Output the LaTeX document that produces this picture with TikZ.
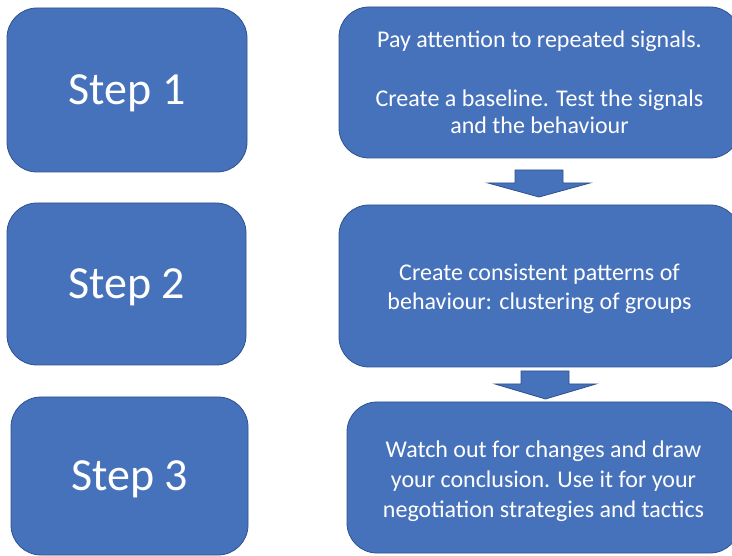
\documentclass[tikz,border=0pt]{standalone}
\usepackage{fontspec}
\setmainfont{Carlito}
\definecolor{boxblue}{HTML}{4671BB}
\definecolor{boxedge}{HTML}{2F528F}
\tikzset{
  panel/.style={draw=boxedge, line width=0.8pt, fill=boxblue, rounded corners=30pt,
    text=white, inner sep=0pt},
  stepbox/.style={panel, font=\fontsize{46}{55}\selectfont, text depth=0pt},
  notetext/.style={text=white, align=center, inner sep=0pt,
    font=\fontsize{24}{30}\selectfont},
  blockarrow/.style={draw=boxedge, line width=0.8pt, fill=boxblue}
}
\begin{document}
\begin{tikzpicture}[x=1pt,y=-1pt]
  \useasboundingbox (0,0) rectangle (732,556);
  \clip (0,0) rectangle (732,556);

  % step labels on the left
  \node[stepbox, minimum width=240pt, minimum height=164pt] (s1) at (127,90) {Step 1};
  \node[stepbox, minimum width=239pt, minimum height=162pt] (s2) at (126.5,284) {Step 2};
  \node[stepbox, minimum width=237pt, minimum height=158pt] (s3) at (129.5,476) {Step 3};

  % description panels on the right
  \node[panel, minimum width=401pt, minimum height=151pt] (r1) at (539.5,82.5) {};
  \node[panel, minimum width=401pt, minimum height=162pt] (r2) at (539.5,286) {};
  \node[panel, minimum width=393pt, minimum height=151pt] (r3) at (543.5,477.5) {};

  % description texts
  \node[notetext, font=\fontsize{24}{27}\selectfont] (t1) at (r1.center)
    {Pay attention to repeated signals.\\[32pt]
     Create a baseline. Test the signals\\and the behaviour};
  \node[notetext, font=\fontsize{24}{29}\selectfont] (t2) at ([yshift=-3pt]r2.center)
    {Create consistent patterns of\\behaviour: clustering of groups};
  \node[notetext] (t3) at ([yshift=-3.5pt]r3.center)
    {Watch out for changes and draw\\your conclusion. Use it for your\\negotiation strategies and tactics};

  % block arrows between the panels
  \draw[blockarrow] (515,170) -- (563,170) -- (563,183) -- (590,183) -- (539,197)
    -- (488,183) -- (515,183) -- cycle;
  \draw[blockarrow] (521,371) -- (569,371) -- (569,384) -- (596,384) -- (545.5,399)
    -- (495,384) -- (521,384) -- cycle;
\end{tikzpicture}
\end{document}
